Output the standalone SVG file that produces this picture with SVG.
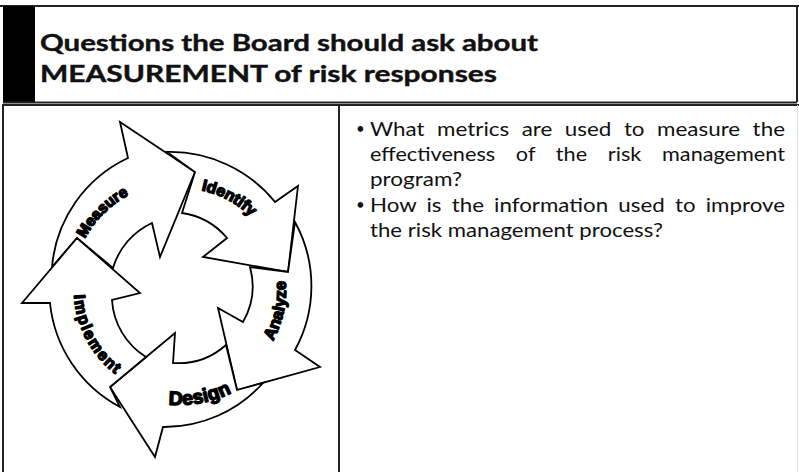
<svg xmlns="http://www.w3.org/2000/svg" width="799" height="472" viewBox="0 0 799 472">
<defs>
<style>
.frame{fill:none;stroke:#222;stroke-width:2}
.arrow{fill:#fff;stroke:#000;stroke-width:1.8;stroke-linejoin:miter}
.lbl{font-family:"Liberation Sans",Arial,sans-serif;font-weight:bold;fill:#000;stroke:#000;stroke-width:1.4;stroke-linejoin:round}
.title{font-family:Lato,"Liberation Sans",sans-serif;font-weight:bold;font-size:22px;fill:#111;stroke:#111;stroke-width:0.4}
.body{font-family:Lato,"Liberation Sans",sans-serif;font-size:20px;fill:#111}
.bullet{font-family:Lato,"Liberation Sans",sans-serif;font-size:15px;fill:#111}
</style>
<path id="pMeasure" d="M72.41,280.59 A108,108 0 0 1 170.58,182.41"/>
<path id="pIdentify" d="M158.79,190.23 A102,102 0 0 1 274.57,251.79"/>
<path id="pAnalyze" d="M245.26,373.53 A106,106 0 0 0 273.59,240.23"/>
<path id="pDesign" d="M123.37,390.10 A115,115 0 0 0 268.73,363.15"/>
<path id="pImplement" d="M78.63,259.01 A106,106 0 0 0 149.01,391.37"/>
</defs>
<rect width="799" height="472" fill="#fff"/>

<g id="header">
<line class="frame" x1="0" y1="6" x2="799" y2="6"/>
<rect x="3" y="6" width="32" height="97" fill="#000"/>
<line class="frame" x1="3" y1="102.5" x2="797" y2="102.5"/>
<line class="frame" x1="797" y1="6" x2="797" y2="102"/>
<text class="title" x="40" y="51" textLength="498" lengthAdjust="spacingAndGlyphs">Questions the Board should ask about</text>
<text class="title" x="40" y="82" textLength="457" lengthAdjust="spacingAndGlyphs">MEASUREMENT of risk responses</text>
</g>

<g id="panels">
<line class="frame" x1="3" y1="105" x2="799" y2="105"/>
<line class="frame" x1="3" y1="104" x2="3" y2="472"/>
<line class="frame" x1="339" y1="104" x2="339" y2="472"/>
<line x1="797.5" y1="105" x2="797.5" y2="472" stroke="#ddd" stroke-width="1"/>
</g>

<g id="cycle">
<g id="measure">
<path class="arrow" d="M52,267 A133,133 0 0 1 128,158 L120,122 L195,172 L160,257 L152,223 A72,72 0 0 0 113,268 L77,238 Z"/>
<text class="lbl" font-size="15.5"><textPath href="#pMeasure" startOffset="50%" text-anchor="middle">Measure</textPath></text>
</g>
<g id="identify">
<path class="arrow" d="M167,152 A135,135 0 0 1 275,202 L298,186 L288,272 L203,257 L227,238 A72,72 0 0 0 182,213 L195,172 Z"/>
<text class="lbl" font-size="16"><textPath href="#pIdentify" startOffset="50%" text-anchor="middle">Identify</textPath></text>
</g>
<g id="analyze">
<path class="arrow" d="M295,222 A133,133 0 0 1 295,350 L320,367 L237,390 L218,308 L243,322 A72,72 0 0 0 250,267 L288,272 Z"/>
<text class="lbl" font-size="16.5"><textPath href="#pAnalyze" startOffset="50%" text-anchor="middle">Analyze</textPath></text>
</g>
<g id="design">
<path class="arrow" d="M263,383 A133,133 0 0 1 163,427 L155,457 L110,387 L175,333 L173,363 A72,72 0 0 0 226,345 L237,390 Z"/>
<text class="lbl" font-size="19.5"><textPath href="#pDesign" startOffset="50%" text-anchor="middle">Design</textPath></text>
</g>
<g id="implement">
<path class="arrow" d="M120,407 A133,133 0 0 1 50,303 L22,303 L77,238 L140,293 L112,300 A72,72 0 0 0 146,357 L110,387 Z"/>
<text class="lbl" font-size="16" letter-spacing="1.5"><textPath href="#pImplement" startOffset="50%" text-anchor="middle">Implement</textPath></text>
</g>
</g>

<g id="questions">
<text class="bullet" x="356" y="134">•</text>
<text class="body" x="370" y="136" word-spacing="6" textLength="415" lengthAdjust="spacingAndGlyphs">What metrics are used to measure the</text>
<text class="body" x="370" y="161" word-spacing="14" textLength="415" lengthAdjust="spacingAndGlyphs">effectiveness of the risk management</text>
<text class="body" x="370" y="186" textLength="92" lengthAdjust="spacingAndGlyphs">program?</text>
<text class="bullet" x="356" y="210">•</text>
<text class="body" x="370" y="212" word-spacing="4" textLength="415" lengthAdjust="spacingAndGlyphs">How is the information used to improve</text>
<text class="body" x="370" y="237" textLength="293" lengthAdjust="spacingAndGlyphs">the risk management process?</text>
</g>
</svg>
